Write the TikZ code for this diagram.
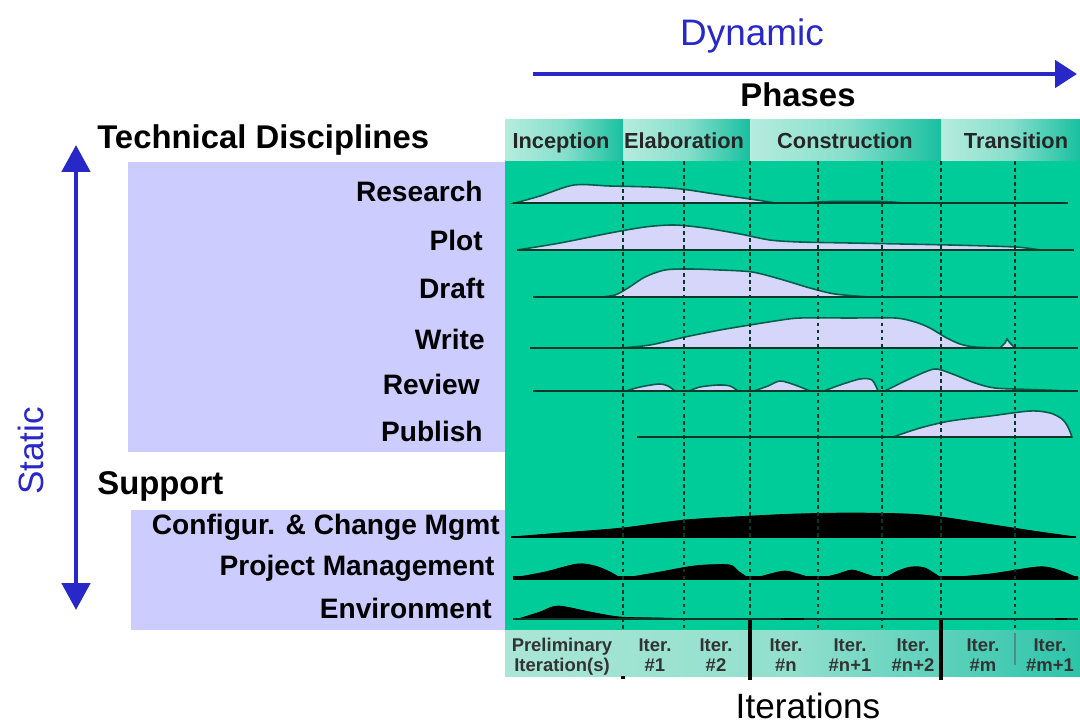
\documentclass[tikz,border=0pt]{standalone}
\usepackage{fontspec}
\setmainfont{Liberation Sans}
\usetikzlibrary{arrows.meta}
\definecolor{rgrn}  {RGB}{  0,204,153}
\definecolor{lav}   {RGB}{204,204,255}
\definecolor{hfill} {RGB}{214,214,250}
\definecolor{hline} {RGB}{  0, 95, 75}
\definecolor{dblue} {RGB}{ 40, 40,200}
\definecolor{hdlt}  {RGB}{182,236,222}
\definecolor{hddk}  {RGB}{ 24,192,160}
\definecolor{bdlt}  {RGB}{170,230,214}
\definecolor{bddk}  {RGB}{ 44,196,170}
\definecolor{gridc} {RGB}{ 10, 55, 40}
\tikzset{
  % discipline names, right aligned on the box
  Disc/.style={anchor=base east,inner sep=0pt,
               font=\fontsize{16}{18}\selectfont\bfseries},
  % section headings
  Head/.style={anchor=base west,inner sep=0pt,
               font=\fontsize{18.7}{22}\selectfont\bfseries},
  % phase and iteration captions
  Phase/.style={anchor=base,inner sep=0pt,text=black!85,
                font=\fontsize{12.4}{14}\selectfont\bfseries},
  Iter/.style={anchor=base,inner sep=0pt,text=black!80,
               font=\fontsize{10.5}{12}\selectfont\bfseries},
  % workload curves
  Hump/.style={fill=hfill,draw=hline,line width=0.9pt},
  BHump/.style={fill=black,draw=black,line width=0.4pt},
  Base/.style={draw=gridc,line width=1.4pt},
  % phase / iteration separators
  PhLine/.style={draw=gridc,line width=1.4pt,dash pattern=on 2.2pt off 1.8pt},
  ItLine/.style={draw=gridc,line width=0.6pt,dash pattern=on 2pt off 2pt},
  Big/.style={line width=2.8pt,color=dblue},
}

\begin{document}
\begin{tikzpicture}[x=0.02cm,y=-0.02cm]
  \useasboundingbox (0,0) rectangle (1080,723);

  % ---- axes
  \coordinate (dynL) at (533,74);
  \coordinate (dynR) at (1077,74);
  \draw[Big,-{Triangle[length=0.44cm,width=0.54cm]}] (dynL) -- (dynR);
  \node[anchor=base,inner sep=0pt,text=dblue,font=\fontsize{21}{24}\selectfont]
        at (752,46) (dyn) {Dynamic};
  \node[anchor=base,inner sep=0pt,font=\fontsize{18.7}{22}\selectfont\bfseries]
        at (798,107) (phs) {Phases};

  \coordinate (stT) at (76,145);
  \coordinate (stB) at (76,610);
  \draw[Big,{Triangle[length=0.54cm,width=0.56cm]}-{Triangle[length=0.54cm,width=0.56cm]}]
        (stT) -- (stB);
  \node[rotate=90,inner sep=0pt,text=dblue,font=\fontsize{20}{24}\selectfont]
        at (31,451) (sta) {Static};

  % ---- left panels
  \fill[lav] (128,162) rectangle (506,452);
  \fill[lav] (131,510) rectangle (506,630);
  \node[Head] at (97,149) (tdh) {Technical Disciplines};
  \node[Head] at (97,494) (suh) {Support};

  \node[Disc] at (483,202) (res) {Research};
  \node[Disc] at (483,251) (plo) {Plot};
  \node[Disc] at (485,298) (dra) {Draft};
  \node[Disc] at (485,350) (wri) {Write};
  \node[Disc] at (480,395) (rev) {Review};
  \node[Disc] at (483,441) (pub) {Publish};
  \node[Disc] at (500,534) (cfg) {Configur. \& Change Mgmt};
  \node[Disc] at (495,575) (pmg) {Project Management};
  \node[Disc] at (492,618) (env) {Environment};

  % ---- phase header
  \shade[left color=hdlt,right color=hddk,middle color=hdlt!70!hddk] (505,120) rectangle (623,161);
  \shade[left color=hdlt,right color=hddk,middle color=hdlt!70!hddk] (623,120) rectangle (750,161);
  \shade[left color=hdlt,right color=hddk,middle color=hdlt!70!hddk] (750,120) rectangle (941,161);
  \shade[left color=hdlt,right color=hddk,middle color=hdlt!70!hddk] (941,120) rectangle (1080,161);
  \node[Phase] at (561,149) (inc) {Inception};
  \node[Phase] at (684,149) (ela) {Elaboration};
  \node[Phase] at (845,149) (con) {Construction};
  \node[Phase] at (1016,149) (tra) {Transition};

  % ---- workload area
  \fill[rgrn] (505,161) rectangle (1080,630);

  % Research
  \filldraw[Hump] plot[smooth,tension=.5] coordinates {(515,203) (540,196) (574,185)
        (610,186) (650,187) (681,189) (715,194) (750,199) (776,203)} -- cycle;
  \filldraw[Hump] plot[smooth,tension=.5] coordinates {(805,203) (830,201.5) (880,201.5) (905,203)} -- cycle;
  \draw[Base] (513,203) -- (1068,203);
  % Plot
  \filldraw[Hump] plot[smooth,tension=.5] coordinates {(517,250) (560,243) (610,233)
        (645,227) (674,225) (705,228) (740,234) (770,240) (800,242) (850,243)
        (950,245) (1015,247) (1040,250)} -- cycle;
  \draw[Base] (517,250) -- (1074,250);
  % Draft
  \filldraw[Hump] plot[smooth,tension=.5] coordinates {(600,297) (615,295) (628,288)
        (645,277) (665,270) (690,269) (720,270) (752,272) (780,279) (810,288)
        (835,294) (870,297)} -- cycle;
  \draw[Base] (533,297) -- (1078,297);
  % Write
  \filldraw[Hump] plot[smooth,tension=.5] coordinates {(620,348) (650,345) (685,337)
        (720,330) (750,325) (775,321) (800,318) (850,318) (895,318) (915,322)
        (930,328) (945,337) (960,344) (975,347) (1000,348)} -- cycle;
  \filldraw[Hump] (1000,348) -- (1005,343) -- (1007,339) -- (1010,343) -- (1015,348) -- cycle;
  \draw[Base] (530,348) -- (1078,348);
  % Review
  \filldraw[Hump] plot[smooth,tension=.5] coordinates {(626,391) (640,387) (659,384) (668,386) (675,391)} -- cycle;
  \filldraw[Hump] plot[smooth,tension=.5] coordinates {(689,391) (700,387) (718,385) (730,386) (738,391)} -- cycle;
  \filldraw[Hump] plot[smooth,tension=.5] coordinates {(754,391) (768,386) (780,381) (795,385) (810,391)} -- cycle;
  \filldraw[Hump] plot[smooth,tension=.5] coordinates {(824,391) (840,385) (860,379) (872,380) (878,391)} -- cycle;
  \filldraw[Hump] plot[smooth,tension=.5] coordinates {(885,391) (905,381) (925,372)
        (937,369) (955,375) (975,383) (995,388) (1030,389.5) (1072,391)} -- cycle;
  \draw[Base] (533,391) -- (1078,391);
  % Publish
  \filldraw[Hump] plot[smooth,tension=.5] coordinates {(893,437) (920,428) (950,421)
        (990,416) (1030,411) (1050,413) (1062,419) (1068,427) (1072,437)} -- cycle;
  \draw[Base] (637,437) -- (1072,437);

  % Configuration & change management
  \filldraw[BHump] plot[smooth,tension=.5] coordinates {(511,537) (560,533) (622,528)
        (685,520) (752,516) (796,514) (850,513) (907,514) (941,517) (1000,526)
        (1040,532) (1076,537)} -- cycle;
  \draw[Base,draw=black] (511,537) -- (1076,537);
  % Project management
  \filldraw[BHump] plot[smooth,tension=.5] coordinates {(513,578) (545,572) (577,564) (595,566) (610,572) (620,578)} -- cycle;
  \filldraw[BHump] plot[smooth,tension=.5] coordinates {(625,578) (660,572) (687,567) (705,565) (730,565) (738,571) (748,578)} -- cycle;
  \filldraw[BHump] plot[smooth,tension=.5] coordinates {(756,578) (770,574) (785,571) (798,574) (811,578)} -- cycle;
  \filldraw[BHump] plot[smooth,tension=.5] coordinates {(822,578) (838,574) (852,570) (866,574) (878,578)} -- cycle;
  \filldraw[BHump] plot[smooth,tension=.5] coordinates {(885,578) (898,571) (911,567) (925,568) (941,578)} -- cycle;
  \filldraw[BHump] plot[smooth,tension=.5] coordinates {(944,578) (990,574) (1037,567) (1055,569) (1078,578)} -- cycle;
  \draw[Base,draw=black,line width=1.8pt] (513,578) -- (1078,578);
  % Environment
  \filldraw[BHump] plot[smooth,tension=.5] coordinates {(518,619) (540,612) (558,606)
        (590,612) (620,617) (660,618) (693,619)} -- cycle;
  \draw[draw=gridc,line width=0.7pt] (513,619) -- (1078,619);
  \draw[black,line width=1.6pt] (781,619) -- (804,619);
  \draw[black,line width=1.6pt] (1055,619) -- (1067,619);

  % separators
  \foreach \x in {623,750,941} \draw[PhLine] (\x,161) -- (\x,630);
  \foreach \x in {684,818,882,1015} \draw[ItLine] (\x,161) -- (\x,630);

  % ---- iteration band
  \shade[left color=bdlt,right color=bddk,middle color=bdlt!80!bddk] (505,630) rectangle (1080,676);
  \draw[black,line width=2.6pt] (750,620) -- (750,680);
  \draw[black,line width=2.6pt] (941,620) -- (941,680);
  \draw[draw=hline!70,line width=0.6pt] (1015,633) -- (1015,665);
  \fill[black] (621,676) rectangle (625,679);

  \foreach \x/\a/\b [count=\i] in {562/Preliminary/Iteration(s), 655/Iter./\#1,
        716/Iter./\#2, 786/Iter./\#n, 850/Iter./\#n+1, 913/Iter./\#n+2,
        983/Iter./\#m, 1050/Iter./\#m+1}{
    \node[Iter] at (\x,651) (ita\i) {\a};
    \node[Iter] at (\x,671) (itb\i) {\b};
  }
  \node[anchor=base,inner sep=0pt,font=\fontsize{20}{24}\selectfont]
        at (808,718) (its) {Iterations};
\end{tikzpicture}
\end{document}
